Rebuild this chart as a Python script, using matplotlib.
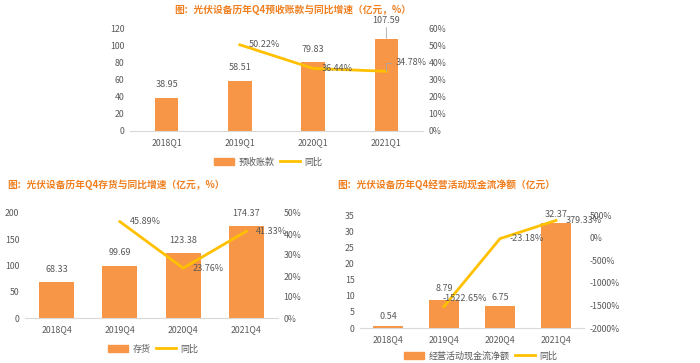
import matplotlib
matplotlib.use("Agg")
import matplotlib.pyplot as plt
from matplotlib.patches import Patch
from matplotlib.lines import Line2D

plt.rcParams['font.family'] = ['Noto Sans CJK SC', 'DejaVu Sans']

# ---- data ----
cats1 = ["2018Q1", "2019Q1", "2020Q1", "2021Q1"]
adv = [38.95, 58.51, 79.83, 107.59]
adv_yoy = [None, 50.22, 36.44, 34.78]

cats2 = ["2018Q4", "2019Q4", "2020Q4", "2021Q4"]
inv = [68.33, 99.69, 123.38, 174.37]
inv_yoy = [None, 45.89, 23.76, 41.33]

cats3 = ["2018Q4", "2019Q4", "2020Q4", "2021Q4"]
ocf = [0.54, 8.79, 6.75, 32.37]
ocf_yoy = [None, -1522.65, -23.18, 379.33]

BAR = "#F79646"
LINE = "#FFC000"
TXT = "#595959"
TITLE = "#F07F20"
AXL = "#D9D9D9"

W, H = 700, 363
fig = plt.figure(figsize=(7, 3.63), dpi=100)


def rect(l, t, r, b):
    return [l / W, 1 - b / H, (r - l) / W, (b - t) / H]


def style(ax):
    for s in ["top", "left", "right"]:
        ax.spines[s].set_visible(False)
    ax.spines["bottom"].set_color(AXL)
    ax.spines["bottom"].set_linewidth(0.8)
    ax.tick_params(length=0, colors=TXT, labelsize=6.3, pad=4)


def panel(box, cats, bars, yoy, ylim, yticks, rlim, rticks, bw, bar_label,
          bar_offsets, yoy_offsets, title, title_xy, title_ha, leg_xy, leg_name):
    ax = fig.add_axes(rect(*box))
    x = list(range(len(cats)))
    ax.bar(x, bars, width=bw, color=BAR, zorder=2)
    ax.set_xlim(-0.5, len(cats) - 0.5)
    ax.set_ylim(*ylim)
    ax.set_yticks(yticks)
    ax.set_xticks(x)
    ax.set_xticklabels(cats)
    style(ax)
    ax.tick_params(axis="x", pad=5)
    ax2 = ax.twinx()
    xs = [xi for xi, v in zip(x, yoy) if v is not None]
    ys = [v for v in yoy if v is not None]
    ax2.plot(xs, ys, color=LINE, lw=2, zorder=3)
    ax2.set_ylim(*rlim)
    ax2.set_yticks(rticks)
    ax2.set_yticklabels([f"{int(t)}%" for t in rticks])
    style(ax2)
    ax2.spines["bottom"].set_visible(False)
    for xi, v, off in zip(x, bars, bar_offsets):
        ax.annotate(f"{v:.2f}", (xi, v), xytext=off, textcoords="offset points",
                    ha="center", va="bottom", fontsize=6.5, color=TXT,
                    annotation_clip=False,
                    arrowprops=(dict(arrowstyle="-", color="#A6A6A6", lw=0.6,
                                     shrinkA=0, shrinkB=0) if off[1] > 8 else None))
    for xi, v, off in zip(x, yoy, yoy_offsets):
        if v is None:
            continue
        lead = off[2] if len(off) > 2 else False
        ax2.annotate(f"{v:.2f}%", (xi, v), xytext=off[:2], textcoords="offset points",
                     ha="left", va="center", fontsize=6.5, color=TXT,
                     annotation_clip=False,
                     arrowprops=(dict(arrowstyle="-", color="#A6A6A6", lw=0.6,
                                      shrinkA=2, shrinkB=0,
                                      connectionstyle="angle,angleA=0,angleB=90")
                                 if lead else None))
    fig.text(title_xy[0] / W, 1 - title_xy[1] / H, title, ha=title_ha, va="center",
             fontsize=7, fontweight="bold", color=TITLE)
    handles = [Patch(color=BAR), Line2D([0], [0], color=LINE, lw=2)]
    fig.legend(handles, [leg_name, "同比"], loc="center",
               bbox_to_anchor=(leg_xy[0] / W, 1 - leg_xy[1] / H), ncol=2,
               frameon=False, fontsize=6.5, labelcolor=TXT, handlelength=2.2,
               handleheight=0.8, columnspacing=0.6, handletextpad=0.5)
    return ax, ax2


panel((130, 28, 423, 131), cats1, adv, adv_yoy, (0, 120), range(0, 121, 20),
      (0, 60), range(0, 61, 10), 0.32, True,
      [(0, 6), (0, 6), (0, 6), (0, 10)],
      [None, (6, 0), (6, 0), (7, 6, True)],
      "图：光伏设备历年Q4预收账款与同比增速（亿元，%）", (293, 10), "center",
      (268, 162), "预收账款")

panel((25, 213, 278, 318), cats2, inv, inv_yoy, (0, 200), range(0, 201, 50),
      (0, 50), range(0, 51, 10), 0.55, True,
      [(0, 6), (0, 6), (0, 6), (0, 6)],
      [None, (7, 0), (7, 0), (7, 0)],
      "图：光伏设备历年Q4存货与同比增速（亿元，%）", (7, 185), "left",
      (153, 349), "存货")

panel((360, 215, 584, 328), cats3, ocf, ocf_yoy, (0, 35), range(0, 36, 5),
      (-2000, 500), range(-2000, 501, 500), 0.54, True,
      [(0, 4), (0, 5), (0, 3), (0, 3)],
      [None, (-1, 6), (7, 0), (7, 0)],
      "图：光伏设备历年Q4经营活动现金流净额（亿元）", (337, 185), "left",
      (481, 356), "经营活动现金流净额")

fig.savefig("out.png", dpi=100, facecolor="white")
